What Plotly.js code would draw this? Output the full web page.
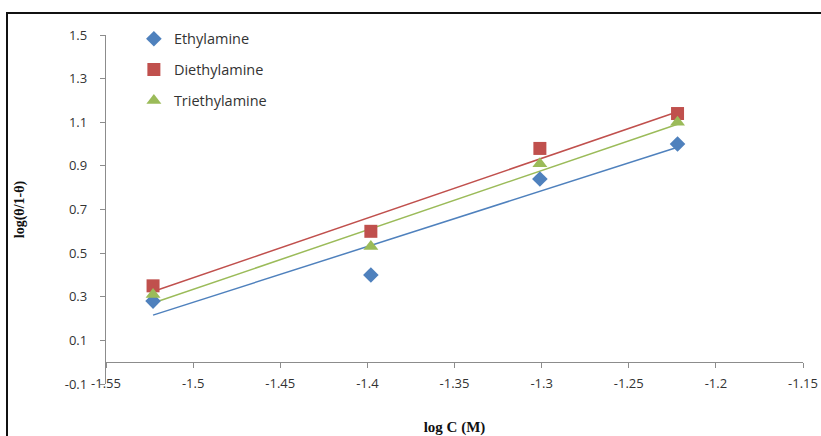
<!DOCTYPE html>
<html>
<head>
<meta charset="utf-8">
<script src="https://cdn.plot.ly/plotly-3.0.1.min.js"></script>
<style>
  html, body { margin: 0; padding: 0; background: #fff; }
  #frame { position: absolute; left: 6px; top: 12px; width: 840px; height: 460px; border: 2px solid #111; box-sizing: border-box; }
  #chart { position: absolute; left: 0; top: 0; width: 821px; height: 436px; }
  body { width: 821px; height: 436px; overflow: hidden; position: relative; }
</style>
</head>
<body>
<div id="frame"></div>
<div id="chart"></div>
<script>
// Data
const logC = [-1.523, -1.398, -1.301, -1.222];
const ethylamine = [0.28, 0.40, 0.84, 1.00];
const diethylamine = [0.35, 0.60, 0.98, 1.14];
const triethylamine = [0.31, 0.53, 0.91, 1.10];
const seriesNames = ["Ethylamine", "Diethylamine", "Triethylamine"];
const xTicks = [-1.55, -1.5, -1.45, -1.4, -1.35, -1.3, -1.25, -1.2, -1.15];
const yTicks = [-0.1, 0.1, 0.3, 0.5, 0.7, 0.9, 1.1, 1.3, 1.5];

const colors = ["#4F81BD", "#C0504D", "#9BBB59"];
const symbols = ["diamond", "square", "triangle-up"];
const sizes = [12, 13, 13];

function linFit(x, y) {
  const n = x.length;
  const mx = x.reduce((a, b) => a + b, 0) / n;
  const my = y.reduce((a, b) => a + b, 0) / n;
  let sxy = 0, sxx = 0;
  for (let i = 0; i < n; i++) { sxy += (x[i] - mx) * (y[i] - my); sxx += (x[i] - mx) ** 2; }
  const m = sxy / sxx, b = my - m * mx;
  return x.map(v => m * v + b);
}

const allY = [ethylamine, diethylamine, triethylamine];
const traces = [];
allY.forEach((ys, i) => {
  traces.push({
    x: logC, y: linFit(logC, ys), mode: "lines", type: "scatter",
    line: { color: colors[i], width: 1.5 }, showlegend: false, hoverinfo: "skip"
  });
});
allY.forEach((ys, i) => {
  traces.push({
    x: logC, y: ys, mode: "markers", type: "scatter", name: seriesNames[i],
    legendgroup: "g" + i,
    marker: { color: colors[i], symbol: symbols[i], size: sizes[i] }
  });
});

const tickFont = { family: "Open Sans, Liberation Sans, sans-serif", size: 13, color: "#333" };

const layout = {
  width: 821, height: 436,
  margin: { l: 106, r: 18, t: 35, b: 52 },
  paper_bgcolor: "rgba(0,0,0,0)", plot_bgcolor: "rgba(0,0,0,0)",
  showlegend: true,
  legend: {
    x: 0.04, y: 1.035, xanchor: "left", yanchor: "top",
    bgcolor: "rgba(0,0,0,0)", traceorder: "grouped", tracegroupgap: 9,
    font: { family: "Open Sans, Liberation Sans, sans-serif", size: 14.5, color: "#333" },
    itemwidth: 30
  },
  xaxis: {
    range: [-1.55, -1.15], tickvals: xTicks, ticktext: xTicks.map(String),
    anchor: "free", position: 0.1 / 1.6,
    showgrid: false, zeroline: false, showline: true, linecolor: "#8c8c8c", linewidth: 1.2,
    ticks: "outside", ticklen: 5, tickcolor: "#8c8c8c", tickfont: tickFont,
    ticklabelstandoff: 4,
    title: { text: "log C (M)", font: { family: "Liberation Serif, serif", size: 15, color: "#111", weight: "bold" }, standoff: 32 }
  },
  yaxis: {
    range: [-0.1, 1.5], tickvals: yTicks, ticktext: yTicks.map(String),
    showgrid: false, zeroline: false, showline: true, linecolor: "#8c8c8c", linewidth: 1.2,
    ticks: "outside", ticklen: 5, tickcolor: "#8c8c8c", tickfont: tickFont,
    ticklabelstandoff: 10,
    title: { text: "log(θ/1-θ)", font: { family: "Liberation Serif, serif", size: 14, color: "#111", weight: "bold" }, standoff: 36 }
  }
};

Plotly.newPlot("chart", traces, layout, { displayModeBar: false, staticPlot: true });
</script>
</body>
</html>
